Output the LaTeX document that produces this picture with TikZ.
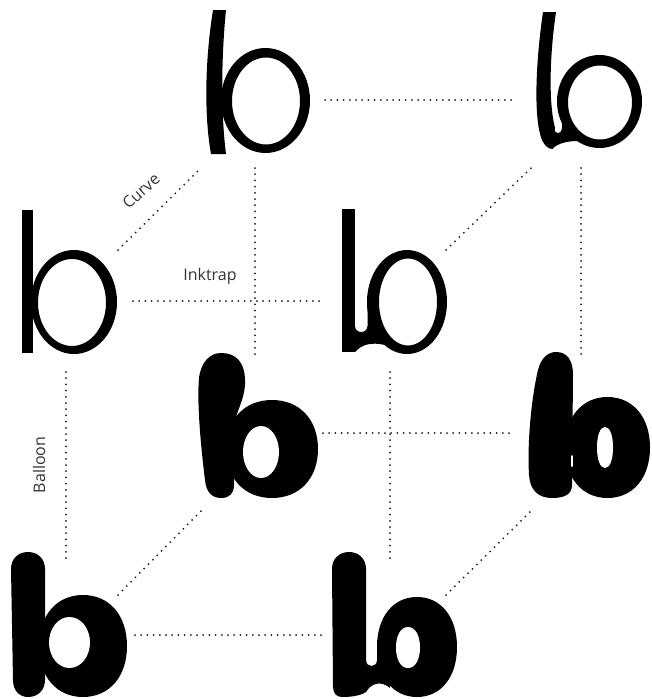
\documentclass[tikz,border=0pt]{standalone}
\usepackage{fontspec}
\newfontfamily\labfont{Open Sans}
\begin{document}
\begin{tikzpicture}[x=1pt,y=-1pt,
  dots/.style={draw=black!90,line width=2pt,line cap=round,dash pattern=on 0pt off 6.2pt},
  lab/.style={font=\labfont\fontsize{16}{19}\selectfont,text=black!80,inner sep=0pt},
  glyph/.style={fill=black},
  hole/.style={fill=white},
  blob/.style n args={5}{insert path={(#1+#3,#2) .. controls (#1+#3,#2+#5*#4) and (#1+#5*#3,#2+#4) .. (#1,#2+#4) .. controls (#1-#5*#3,#2+#4) and (#1-#3,#2+#5*#4) .. (#1-#3,#2) .. controls (#1-#3,#2-#5*#4) and (#1-#5*#3,#2-#4) .. (#1,#2-#4) .. controls (#1+#5*#3,#2-#4) and (#1+#3,#2-#5*#4) .. (#1+#3,#2) -- cycle}}]
\fill[white] (0,0) rectangle (651,699);
\useasboundingbox (0,0) rectangle (651,699);

% ---------- connectors (cube edges) ----------
\coordinate (a1) at (325,100);  \coordinate (a2) at (513,100);
\coordinate (b1) at (118,250);  \coordinate (b2) at (201,168);
\coordinate (c1) at (255,168);  \coordinate (c2) at (255,357);
\coordinate (d1) at (133,301);  \coordinate (d2) at (322,301);
\coordinate (e1) at (581,168);  \coordinate (e2) at (581,357);
\coordinate (f1) at (446,250);  \coordinate (f2) at (531,168);
\coordinate (g1) at (66,372);   \coordinate (g2) at (66,560);
\coordinate (h1) at (390,372);  \coordinate (h2) at (390,560);
\coordinate (i1) at (323,433);  \coordinate (i2) at (513,433);
\coordinate (j1) at (118,595);  \coordinate (j2) at (201,511);
\coordinate (k1) at (446,595);  \coordinate (k2) at (531,511);
\coordinate (l1) at (135,635);  \coordinate (l2) at (322,635);
\foreach \p in {a,b,c,d,e,f,g,h,i,j,k,l} \draw[dots] (\p1) -- (\p2);

% ---------- labels ----------
\node[lab,rotate=42] (curve) at (141,191) {Curve};
\node[lab] (inktrap) at (210,276) {Inktrap};
\node[lab,rotate=90] (balloon) at (39,465) {Balloon};

% ---------- G1: curve, thin ----------
\fill[glyph] (213,10) .. controls (205,60) and (204,115) .. (211,154) -- (226,154) .. controls (221,115) and (221,60) .. (226,10) -- cycle;
\fill[glyph,even odd rule] (0,0) [blob={265.5}{100.5}{44.5}{52.5}{0.552}] [blob={266}{101}{34}{43.5}{0.552}];

% ---------- G2: curve + inktrap, thin ----------
\fill[glyph] (543,12) .. controls (536,60) and (533,118) .. (542,140) .. controls (545,146) and (548,149) .. (553,149) -- (555,128) .. controls (549,105) and (549,60) .. (556,12) -- cycle;
\fill[glyph,even odd rule] (0,0) [blob={599.5}{101.5}{42.5}{46.5}{0.552}] [blob={600}{102.5}{32}{37}{0.552}];
\fill[glyph] (552,149) -- (554,128) .. controls (555,135) and (561,135) .. (562,128) -- (562,108) -- (566,108) -- (578,141) .. controls (568,141) and (558,143) .. (552,149) -- cycle;

% ---------- G3: plain, thin ----------
\fill[glyph] (22,210) rectangle (33,353);
\fill[glyph,even odd rule] (0,0) [blob={74}{302}{43}{52}{0.552}] [blob={72}{302.5}{34}{43.5}{0.552}];

% ---------- G4: inktrap, thin ----------
\fill[glyph] (342,209) rectangle (355,352);
\fill[glyph,even odd rule] (0,0) [blob={407}{302}{40}{52}{0.552}] [blob={408}{302}{29}{43.5}{0.552}];
\fill[glyph] (355,352) -- (355,326) .. controls (355,334) and (367.5,334) .. (367.5,326) -- (367.5,295) -- (375,295) -- (385,345) .. controls (372,342) and (362,344) .. (355,352) -- cycle;

% ---------- G5: balloon + curve ----------
\fill[glyph] (221,353) .. controls (236,353) and (246,362) .. (245,385) .. controls (244,400) and (237,410) .. (234,425) -- (234,485) .. controls (234,494) and (229,498) .. (221,498) .. controls (212,498) and (206,492) .. (205,480) .. controls (200,440) and (197,400) .. (199,378) .. controls (201,362) and (210,353) .. (221,353) -- cycle;
\fill[glyph] (0,0) [blob={272}{449}{46}{49}{0.6}];
\fill[hole] (0,0) [blob={261}{452}{18}{26}{0.552}];

% ---------- G6: balloon + curve + inktrap ----------
\fill[glyph] (556,352) .. controls (567,352) and (573,360) .. (573,375) -- (572,485) .. controls (572,494) and (565,498) .. (552,498) .. controls (538,498) and (530,490) .. (529,475) .. controls (527,440) and (532,395) .. (538,370) .. controls (541,358) and (548,352) .. (556,352) -- cycle;
\fill[glyph] (0,0) [blob={607.5}{447.5}{42.5}{50.5}{0.6}];
\fill[hole] (0,0) [blob={605}{447.5}{8}{20.5}{0.6}];
\draw[white,line width=2pt,line cap=round] (571.5,456) -- (571.5,466);

% ---------- G7: balloon ----------
\fill[glyph] (11,569) .. controls (11,559) and (18,552) .. (28,552) .. controls (38,552) and (45,559) .. (45,569) -- (45,680) .. controls (45,690) and (38,697) .. (28,697) .. controls (19,697) and (13,690) .. (13,680) -- cycle;
\fill[glyph] (0,0) [blob={83}{646}{44}{51}{0.6}];
\fill[hole] (0,0) [blob={69.5}{642.5}{20.5}{25.5}{0.552}];

% ---------- G8: balloon + inktrap ----------
\fill[glyph] (332,569) .. controls (332,559) and (339,552) .. (349,552) .. controls (359,552) and (366,559) .. (366,569) -- (366,692) .. controls (360,696) and (350,697) .. (342,697) .. controls (336,697) and (333,693) .. (333,686) -- cycle;
\fill[glyph] (0,0) [blob={417}{647}{40}{50}{0.6}];
\fill[glyph] (366,692) -- (366,660) .. controls (366,668) and (377,668) .. (377,660) -- (377,640) -- (385,640) -- (390,688) .. controls (382,681) and (372,682) .. (366,692) -- cycle;
\fill[hole] (0,0) [blob={408}{647.5}{12}{20.5}{0.6}];
\end{tikzpicture}
\end{document}
